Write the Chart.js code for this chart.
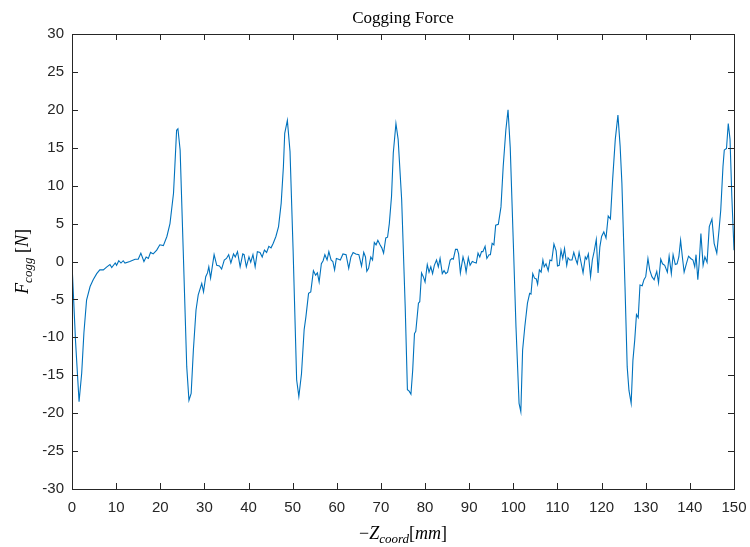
<!DOCTYPE html>
<html>
<head>
<meta charset="utf-8">
<script src="https://cdn.jsdelivr.net/npm/chart.js@4"></script>
<style>
  html, body { margin: 0; padding: 0; background: #fff; }
  #wrap { width: 750px; height: 547px; }
</style>
</head>
<body>
<div id="wrap"><canvas id="cogChart" width="750" height="547"></canvas></div>
<script>
// cogging force vs position
const zPos = [
  0.0, 0.8, 1.6, 2.2, 2.7, 3.3, 4.1, 4.8, 5.6, 6.3, 7.1, 7.9, 8.6, 9.0, 9.8, 10.1, 10.6, 11.1, 11.6, 12.0,
  13.1, 14.3, 15.0, 15.6, 16.3, 16.8, 17.3, 17.8, 18.4, 19.2, 19.9, 20.7, 21.5, 22.2, 23.0, 23.3, 23.7, 24.0, 24.5, 25.2,
  26.0, 26.5, 27.0, 27.5, 28.1, 28.6, 29.4, 29.8, 30.3, 30.7, 31.0, 31.4, 32.2, 32.8, 33.4, 33.9, 34.5, 35.0, 35.5, 36.0,
  36.6, 37.0, 37.5, 38.1, 38.7, 39.0, 39.5, 40.1, 40.5, 41.0, 41.5, 42.0, 42.6, 43.1, 43.6, 44.1, 44.6, 45.1, 45.6, 46.2,
  46.8, 47.4, 47.9, 48.2, 48.8, 49.4, 50.1, 50.9, 51.4, 52.0, 52.6, 53.0, 53.6, 54.1, 54.7, 55.2, 55.6, 56.0, 56.5, 56.9,
  57.3, 57.8, 58.2, 58.7, 59.1, 59.5, 59.9, 60.4, 60.8, 61.4, 62.1, 62.7, 63.2, 63.7, 64.3, 65.0, 65.6, 66.1, 66.5, 66.8,
  67.2, 67.7, 68.1, 68.5, 68.9, 69.3, 69.8, 70.2, 70.6, 71.1, 71.5, 71.9, 72.4, 72.8, 73.4, 73.9, 74.7, 75.5, 76.0, 76.4,
  76.8, 77.2, 77.6, 77.9, 78.5, 78.8, 79.2, 79.6, 80.0, 80.5, 80.9, 81.3, 81.7, 82.1, 82.6, 83.0, 83.4, 83.9, 84.3, 84.7,
  85.1, 85.7, 86.1, 86.4, 86.9, 87.3, 87.6, 88.0, 88.6, 89.0, 89.3, 89.8, 90.2, 90.7, 91.1, 91.6, 92.0, 92.4, 92.8, 93.1,
  93.6, 94.0, 94.5, 94.8, 95.2, 95.6, 96.0, 96.6, 97.2, 97.7, 98.3, 98.8, 99.3, 100.0, 100.6, 101.3, 101.7, 102.1, 102.6, 103.2,
  103.7, 104.0, 104.4, 104.8, 105.2, 105.5, 105.9, 106.3, 106.7, 107.0, 107.4, 107.9, 108.3, 108.7, 109.2, 109.7, 110.0, 110.4, 110.8, 111.2,
  111.6, 112.1, 112.4, 112.8, 113.3, 113.7, 114.2, 114.5, 114.9, 115.3, 115.8, 116.3, 116.6, 117.0, 117.5, 117.9, 118.3, 118.8, 119.2, 119.6,
  120.0, 120.5, 121.0, 121.5, 122.0, 122.5, 123.1, 123.7, 124.2, 124.6, 125.3, 125.8, 126.2, 126.7, 127.1, 127.5, 127.9, 128.3, 128.7, 129.2,
  129.6, 130.0, 130.5, 130.9, 131.4, 131.9, 132.5, 132.9, 133.4, 133.8, 134.3, 134.9, 135.3, 135.8, 136.2, 136.7, 137.1, 137.5, 137.9, 138.3,
  138.7, 139.2, 139.7, 140.2, 140.7, 141.1, 141.4, 141.8, 142.1, 142.5, 143.0, 143.4, 143.9, 144.4, 145.0, 145.5, 146.1, 146.6, 147.0, 147.5,
  147.8, 148.3, 148.7, 149.1, 149.5, 150.0
];
const fCogg = [
  -0.3, -10.5, -18.5, -14.7, -9.4, -5.1, -3.3, -2.4, -1.6, -1.1, -1.1, -0.7, -0.4, -0.8, -0.2, -0.5, 0.1, -0.2, 0.1, -0.2,
  0.0, 0.3, 0.3, 1.1, 0.0, 0.6, 0.4, 1.2, 1.0, 1.5, 2.2, 2.1, 3.3, 5.0, 9.0, 12.5, 17.3, 17.5, 14.7, 1.5,
  -13.9, -18.3, -17.4, -11.7, -6.4, -4.4, -2.9, -4.0, -2.0, -1.5, -0.7, -2.2, 0.9, -0.5, -0.6, -1.0, 0.2, 0.4, 0.9, -0.2,
  1.0, 0.6, 1.3, -0.7, 1.0, 0.9, -0.7, 0.6, -0.1, 0.9, -0.7, 1.3, 1.2, 0.6, 1.5, 1.2, 2.0, 1.8, 2.4, 3.3,
  4.6, 7.7, 12.5, 16.9, 18.6, 14.5, 1.5, -15.6, -17.8, -14.8, -9.0, -7.3, -4.2, -4.0, -1.2, -1.8, -1.5, -2.7, -0.3, 0.1,
  0.9, 0.2, 1.3, 0.2, 0.0, -1.1, 0.4, 0.3, 0.2, 1.0, 0.9, -0.9, 0.6, 1.2, 1.0, 0.9, -0.6, 1.2, 0.6, -1.3,
  -0.9, 0.6, 0.2, 2.5, 2.2, 2.8, 2.2, 1.8, 1.1, 3.1, 3.2, 5.0, 8.6, 14.3, 18.2, 16.1, 8.1, -6.0, -16.9, -17.1,
  -17.5, -14.3, -9.5, -9.2, -5.5, -5.3, -1.5, -2.0, -2.7, -0.4, -1.4, -0.7, -1.6, -0.5, 0.2, -0.7, 0.4, -1.6, -1.2, -1.6,
  -1.4, 0.2, 0.4, 0.3, 1.6, 1.6, 1.0, -1.5, 0.6, -0.3, -1.4, 0.5, -0.5, 0.0, -0.1, -0.2, 1.1, 0.6, 1.3, 1.3,
  2.0, 0.4, 0.9, 0.9, 2.4, 2.2, 4.8, 4.9, 7.2, 12.5, 17.3, 20.0, 15.0, 2.4, -8.6, -18.7, -19.8, -11.7, -8.6, -5.5,
  -4.2, -4.3, -1.6, -2.2, -2.3, -3.0, -1.1, -1.4, 0.2, -0.7, -0.3, -1.2, 0.2, 0.1, 2.3, 1.4, -0.6, -0.5, 1.5, 0.4,
  1.7, -0.5, 0.5, 0.2, 0.2, 1.2, 0.2, -0.3, 1.2, 0.0, -1.5, 0.6, 0.3, 1.0, -2.0, 0.2, 1.3, 2.9, -1.5, 1.9,
  3.3, 3.9, 3.1, 6.0, 5.6, 10.8, 16.1, 19.3, 15.2, 10.3, -3.3, -13.9, -17.0, -18.7, -13.0, -10.4, -7.0, -7.4, -3.1, -3.2,
  -2.4, -2.0, 0.4, -1.1, -2.0, -2.4, -1.3, -2.8, 0.3, -0.3, -0.5, -1.4, 0.7, -1.6, 0.9, -0.4, -0.3, 0.6, 2.8, 0.6,
  -1.4, -0.3, 0.7, 0.4, 0.2, -0.7, 0.9, -2.4, -0.3, 3.7, -0.5, 0.6, -0.1, 4.6, 5.6, 2.4, 1.1, 4.1, 6.8, 12.5,
  14.7, 14.9, 18.2, 16.1, 8.7, 1.5
];
const xTicks = [0, 10, 20, 30, 40, 50, 60, 70, 80, 90, 100, 110, 120, 130, 140, 150];
const yTicks = [-30, -25, -20, -15, -10, -5, 0, 5, 10, 15, 20, 25, 30];

const axisColor = '#262626';
const lineColor = '#0072BD';
const serif = '"Liberation Serif", "DejaVu Serif", serif';

// draws a list of [text, font, dy] pieces centred on (cx, cy)
function drawPieces(ctx, pieces, cx, cy) {
    let total = 0;
    pieces.forEach(p => { ctx.font = p[1]; total += ctx.measureText(p[0]).width; });
    let x = cx - total / 2;
    ctx.textAlign = 'left';
    ctx.textBaseline = 'alphabetic';
    pieces.forEach(p => {
        ctx.font = p[1];
        ctx.fillText(p[0], x, cy + (p[2] || 0));
        x += ctx.measureText(p[0]).width;
    });
}

// MATLAB style box, inward ticks, title and latex-ish labels
const matlabAxes = {
    id: 'matlabAxes',
    afterDraw(chart) {
        const ctx = chart.ctx;
        const a = chart.chartArea;
        const xs = chart.scales.x, ys = chart.scales.y;
        const tl = 6;
        ctx.save();
        ctx.strokeStyle = axisColor;
        ctx.lineWidth = 1;
        ctx.beginPath();
        xTicks.forEach(v => {
            const px = Math.round(xs.getPixelForValue(v)) + 0.5;
            ctx.moveTo(px, a.bottom); ctx.lineTo(px, a.bottom - tl);
            ctx.moveTo(px, a.top); ctx.lineTo(px, a.top + tl);
        });
        yTicks.forEach(v => {
            const py = Math.round(ys.getPixelForValue(v)) + 0.5;
            ctx.moveTo(a.left, py); ctx.lineTo(a.left + tl, py);
            ctx.moveTo(a.right, py); ctx.lineTo(a.right - tl, py);
        });
        ctx.stroke();
        ctx.strokeRect(Math.round(a.left) + 0.5, Math.round(a.top) + 0.5,
            Math.round(a.right - a.left), Math.round(a.bottom - a.top));

        ctx.fillStyle = '#000';
        // title
        drawPieces(ctx, [['Cogging Force', '17px ' + serif, 0]], (a.left + a.right) / 2, 23);
        // x label
        drawPieces(ctx, [
            ['\u2212', '18px ' + serif, 0],
            ['Z', 'italic 18px ' + serif, 0],
            ['coord', 'italic 13px ' + serif, 4],
            ['[', '18px ' + serif, 0],
            ['mm', 'italic 18px ' + serif, 0],
            [']', '18px ' + serif, 0]
        ], (a.left + a.right) / 2, 539);
        // y label, rotated
        ctx.translate(28, (a.top + a.bottom) / 2);
        ctx.rotate(-Math.PI / 2);
        drawPieces(ctx, [
            ['F', 'italic 18px ' + serif, 0],
            ['cogg', 'italic 13px ' + serif, 4],
            [' [', '18px ' + serif, 0],
            ['N', 'italic 18px ' + serif, 0],
            [']', '18px ' + serif, 0]
        ], 0, 0);
        ctx.restore();
    }
};

const points = zPos.map((z, i) => ({ x: z, y: fCogg[i] }));

new Chart(document.getElementById('cogChart').getContext('2d'), {
    type: 'line',
    data: {
        datasets: [{
            label: 'Cogging Force',
            data: points,
            borderColor: lineColor,
            borderWidth: 1.1,
            pointRadius: 0,
            tension: 0,
            fill: false
        }]
    },
    options: {
        responsive: false,
        animation: false,
        layout: { padding: { top: 34, right: 16, left: 0, bottom: 0 } },
        scales: {
            x: {
                type: 'linear',
                min: 0, max: 150,
                afterBuildTicks: s => { s.ticks = xTicks.map(v => ({ value: v })); },
                afterFit: s => { s.height = 58; s.paddingLeft = 0; s.paddingRight = 0; },
                grid: { display: false, drawTicks: false },
                border: { display: false },
                ticks: {
                    color: axisColor, padding: 10, maxRotation: 0, autoSkip: false,
                    font: { family: '"Liberation Sans", Arial, sans-serif', size: 15 }
                }
            },
            y: {
                min: -30, max: 30,
                afterBuildTicks: s => { s.ticks = yTicks.map(v => ({ value: v })); },
                afterFit: s => { s.width = 72; s.paddingTop = 0; s.paddingBottom = 0; },
                grid: { display: false, drawTicks: false },
                border: { display: false },
                ticks: {
                    color: axisColor, padding: 8, autoSkip: false,
                    font: { family: '"Liberation Sans", Arial, sans-serif', size: 15 }
                }
            }
        },
        plugins: {
            legend: { display: false },
            tooltip: { enabled: false },
            title: { display: false }
        }
    },
    plugins: [matlabAxes]
});
</script>
</body>
</html>
